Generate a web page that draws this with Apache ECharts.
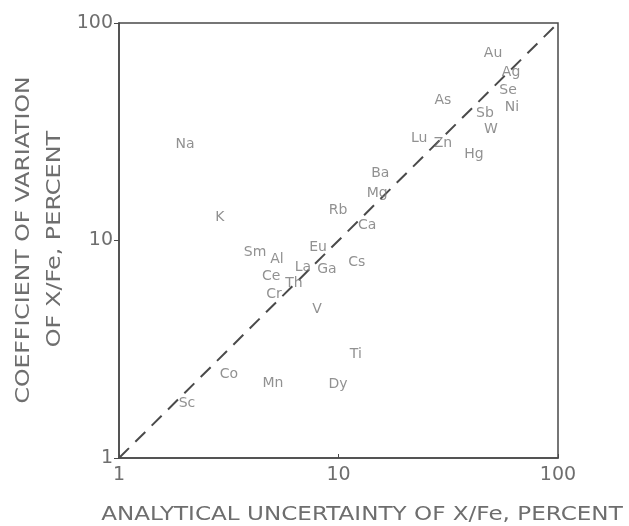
<!DOCTYPE html>
<html>
<head>
<meta charset="utf-8">
<script src="https://cdn.jsdelivr.net/npm/echarts@6/dist/echarts.min.js"></script>
<style>
html,body{margin:0;padding:0;background:#fff;}
#c{width:629px;height:526px;}
</style>
</head>
<body>
<div id="c"></div>
<script>
// Element labels and their values (analytical uncertainty %, coefficient of variation %)
var elements = ['Au','Ag','Se','Ni','As','Sb','W','Lu','Zn','Hg','Na','Ba','Mg','Rb','K','Ca','Eu','Sm','Al','La','Ga','Cs','Ce','Th','Cr','V','Ti','Co','Mn','Dy','Sc'];
var xValues  = [50.6, 61.1, 59.2, 61.7, 29.9, 46.5, 49.5, 23.3, 29.9, 41.4, 2.0, 15.5, 15.0, 9.95, 2.88, 13.5, 8.07, 4.17, 5.24, 6.89, 8.86, 12.1, 4.93, 6.27, 5.08, 7.98, 12.0, 3.17, 5.03, 9.95, 2.04];
var yValues  = [72.8, 59.5, 49.2, 41.1, 44.3, 38.6, 32.6, 29.6, 28.1, 25.0, 27.8, 20.4, 16.5, 13.8, 12.8, 11.7, 9.33, 8.85, 8.22, 7.55, 7.39, 7.96, 6.87, 6.38, 5.68, 4.84, 2.98, 2.43, 2.21, 2.17, 1.79];
var lineX = [1, 100];
var lineY = [1, 100];
var xTitle = 'ANALYTICAL UNCERTAINTY OF X/Fe, PERCENT';
var yTitle1 = 'COEFFICIENT OF VARIATION';
var yTitle2 = 'OF X/Fe, PERCENT';

var pts = elements.map(function(n,i){ return [xValues[i], yValues[i], n]; });
var linePts = lineX.map(function(v,i){ return [v, lineY[i]]; });

var FONT = 'DejaVu Sans';
var TXT = '#6e6e6e';
var LBL = '#767676';
var LINE = '#4a4a4a';

var chart = echarts.init(document.getElementById('c'), null, {renderer:'canvas'});
chart.setOption({
  backgroundColor:'#fff',
  animation:false,
  grid:{left:119, right:71, top:23, bottom:68, show:true, borderColor:LINE, borderWidth:1.5, backgroundColor:'transparent'},
  xAxis:{type:'log', logBase:10, min:1, max:100,
    axisLine:{show:true, lineStyle:{color:LINE, width:1.5}},
    axisTick:{show:true, inside:true, length:4, lineStyle:{color:LINE}},
    axisLabel:{color:TXT, fontFamily:FONT, fontSize:19, margin:8},
    splitLine:{show:false}, minorTick:{show:false}},
  yAxis:{type:'log', logBase:10, min:1, max:100,
    axisLine:{show:true, lineStyle:{color:LINE, width:1.5}},
    axisTick:{show:true, inside:false, length:5, lineStyle:{color:LINE}},
    axisLabel:{color:TXT, fontFamily:FONT, fontSize:19, margin:6},
    splitLine:{show:false}},
  graphic:[
    {type:'text', x:362, y:515, scaleX:1.215, style:{text:xTitle, fill:TXT, font:'19px "DejaVu Sans"', textAlign:'center', textVerticalAlign:'middle'}},
    {type:'text', x:24, y:240, rotation:Math.PI/2, scaleX:1.24, style:{text:yTitle1, fill:TXT, font:'19px "DejaVu Sans"', textAlign:'center', textVerticalAlign:'middle'}},
    {type:'text', x:55, y:239, rotation:Math.PI/2, scaleX:1.26, style:{text:yTitle2, fill:TXT, font:'19px "DejaVu Sans"', textAlign:'center', textVerticalAlign:'middle'}}
  ],
  series:[
    {type:'line', data:linePts, symbol:'none', lineStyle:{color:LINE, width:2, type:[14,9]}, z:1},
    {type:'scatter', data:pts, symbolSize:1, itemStyle:{color:'rgba(0,0,0,0)'},
     label:{show:true, position:'inside', formatter:function(p){return p.data[2];}, color:LBL, fontFamily:FONT, fontSize:14},
     z:3}
  ]
});
</script>
</body>
</html>
